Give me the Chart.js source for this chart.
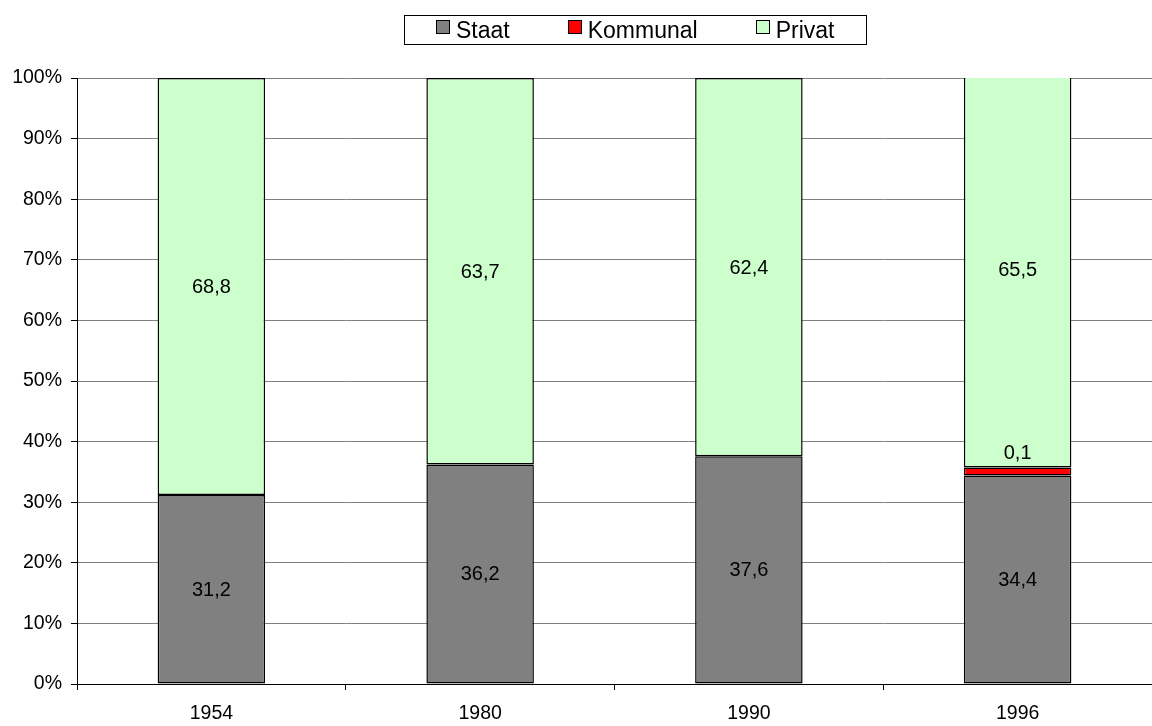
<!DOCTYPE html>
<html>
<head>
<meta charset="utf-8">
<style>
  html, body { margin: 0; padding: 0; background: #fff; overflow: hidden; }
  canvas { display: block; }
</style>
<script src="https://cdn.jsdelivr.net/npm/chart.js@4/dist/chart.umd.min.js"></script>
</head>
<body>
<canvas id="c" width="1152" height="726"></canvas>
<script>
// Jahre und Anteile (in %) nach Eigentumsform
const years = ['1954', '1980', '1990', '1996'];
const staat = [31.2, 36.2, 37.6, 34.4];
const kommunal = [null, null, null, 0.1];
const privat = [68.8, 63.7, 62.4, 65.5];
const yTicks = [0, 10, 20, 30, 40, 50, 60, 70, 80, 90, 100];

const FONT = '"Liberation Sans", Arial, sans-serif';

// 100%-Stapel: jede Säule auf ihre Summe normieren
const totals = years.map((_, i) => (staat[i] || 0) + (kommunal[i] || 0) + (privat[i] || 0));
const share = arr => arr.map((v, i) => v == null ? null : v / totals[i] * 100);
const raw = [staat, kommunal, privat];

const fmt = v => v.toFixed(1).replace('.', ',');

// Wertbeschriftungen in den Säulenabschnitten
const valueLabels = {
  id: 'valueLabels',
  afterDatasetsDraw(chart) {
    const ctx = chart.ctx;
    ctx.save();
    ctx.font = '20px ' + FONT;
    ctx.fillStyle = '#000';
    ctx.textAlign = 'center';
    ctx.textBaseline = 'middle';
    chart.data.datasets.forEach((ds, di) => {
      const meta = chart.getDatasetMeta(di);
      meta.data.forEach((bar, i) => {
        const v = raw[di][i];
        if (v == null) return;
        const top = Math.min(bar.y, bar.base);
        const h = Math.abs(bar.base - bar.y);
        const y = h < 20 ? top - 14 : top + h / 2 + 1;
        ctx.fillText(fmt(v), bar.x, y);
      });
    });
    ctx.restore();
  }
};

// Legende im Rahmen oberhalb der Zeichenfläche
const boxLegend = {
  id: 'boxLegend',
  afterDraw(chart) {
    const ctx = chart.ctx;
    ctx.save();
    ctx.font = '23px ' + FONT;
    const sq = 14, gapText = 6, gapItem = 58, padX = 32;
    const items = chart.data.datasets.map(ds => ({
      label: ds.label, color: ds.backgroundColor, w: ctx.measureText(ds.label).width
    }));
    const inner = items.reduce((s, it) => s + sq + gapText + it.w, 0) + gapItem * (items.length - 1);
    const boxW = inner + 2 * padX;
    const cx = 635, top = 15, boxH = 29;
    const left = Math.round(cx - boxW / 2);
    ctx.strokeStyle = '#000';
    ctx.lineWidth = 1;
    ctx.strokeRect(left + 0.5, top + 0.5, Math.round(boxW), boxH);
    let x = left + padX;
    const midY = top + boxH / 2 + 0.5;
    ctx.textBaseline = 'middle';
    ctx.textAlign = 'left';
    items.forEach(it => {
      const sy = Math.round(midY - sq / 2) - 3;
      ctx.fillStyle = it.color;
      ctx.fillRect(Math.round(x), sy, sq, sq);
      ctx.strokeStyle = '#000';
      ctx.strokeRect(Math.round(x) + 0.5, sy + 0.5, sq - 1, sq - 1);
      x += sq + gapText;
      ctx.fillStyle = '#000';
      ctx.fillText(it.label, x, midY + 2);
      x += it.w + gapItem;
    });
    ctx.restore();
  }
};

const barCommon = {
  borderColor: '#000',
  borderWidth: 1.5,
  borderSkipped: false,
  barPercentage: 0.4,
  categoryPercentage: 1.0
};

new Chart(document.getElementById('c'), {
  type: 'bar',
  data: {
    labels: years,
    datasets: [
      Object.assign({ label: 'Staat', data: share(staat), backgroundColor: '#808080' }, barCommon),
      Object.assign({ label: 'Kommunal', data: share(kommunal), backgroundColor: '#FF0000', minBarLength: 8 }, barCommon),
      Object.assign({ label: 'Privat', data: share(privat), backgroundColor: '#CCFFCC' }, barCommon)
    ]
  },
  options: {
    responsive: false,
    animation: false,
    devicePixelRatio: 1,
    layout: { padding: { top: 78, left: 0, right: 0, bottom: 0 } },
    plugins: {
      legend: { display: false },
      tooltip: { enabled: false }
    },
    scales: {
      x: {
        stacked: true,
        afterFit(scale) { scale.height = 42; },
        grid: {
          offset: true,
          drawOnChartArea: false,
          drawTicks: true,
          tickLength: 6,
          tickColor: '#000'
        },
        border: { color: '#000', width: 1 },
        ticks: {
          color: '#000',
          font: { family: FONT, size: 19.5 },
          padding: 12,
          maxRotation: 0
        }
      },
      y: {
        stacked: true,
        min: 0,
        max: 100,
        afterFit(scale) { scale.width = 77; },
        afterBuildTicks(scale) { scale.ticks = yTicks.map(v => ({ value: v })); },
        grid: {
          color: '#808080',
          tickLength: 6,
          tickColor: '#000'
        },
        border: { color: '#000', width: 1 },
        ticks: {
          color: '#000',
          font: { family: FONT, size: 19.5 },
          padding: 9,
          callback: v => v + '%'
        }
      }
    }
  },
  plugins: [valueLabels, boxLegend]
});
</script>
</body>
</html>
